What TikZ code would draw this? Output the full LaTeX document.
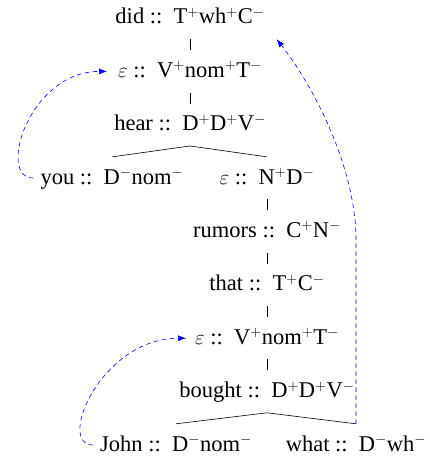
\documentclass[tikz,border=0pt]{standalone}
\usepackage{fontspec}
\setmainfont{Liberation Serif}
\usetikzlibrary{arrows.meta}
\newcommand{\lexi}[2]{#1 ::\hspace{0.5em}#2}
\begin{document}
\begin{tikzpicture}[x=1pt,y=-1pt,
  tn/.style={inner xsep=7pt, inner ysep=11pt, text height=16pt, text depth=4pt, anchor=base, font=\fontsize{22.5}{27}\selectfont},
  edge/.style={line width=0.6pt},
  mv/.style={blue, line width=0.6pt, dash pattern=on 4.5pt off 3.5pt, -{Latex[length=8pt,width=6pt]}}]
\useasboundingbox (0,0) rectangle (429,460);
\node[tn] (did) at (190,24) {\lexi{did}{T$^{+}$wh$^{+}$C$^{-}$}};
\node[tn] (e1) at (190,77.4) {\lexi{$\varepsilon$}{V$^{+}$nom$^{+}$T$^{-}$}};
\node[tn] (hear) at (190,130.75) {\lexi{hear}{D$^{+}$D$^{+}$V$^{-}$}};
\node[tn] (you) at (112,184.1) {\lexi{you}{D$^{-}$nom$^{-}$}};
\node[tn] (eN) at (267,184.1) {\lexi{$\varepsilon$}{N$^{+}$D$^{-}$}};
\node[tn] (rumors) at (267,237.5) {\lexi{rumors}{C$^{+}$N$^{-}$}};
\node[tn] (that) at (267,290.9) {\lexi{that}{T$^{+}$C$^{-}$}};
\node[tn] (e2) at (267,344.25) {\lexi{$\varepsilon$}{V$^{+}$nom$^{+}$T$^{-}$}};
\node[tn] (bought) at (267,397.6) {\lexi{bought}{D$^{+}$D$^{+}$V$^{-}$}};
\node[tn] (john) at (176,451) {\lexi{John}{D$^{-}$nom$^{-}$}};
\node[tn] (what) at (356,451) {\lexi{what}{D$^{-}$wh$^{-}$}};
\draw[edge] (did.south) -- (e1.north);
\draw[edge] (e1.south) -- (hear.north);
\draw[edge] (hear.south) -- (you.north);
\draw[edge] (hear.south) -- (eN.north);
\draw[edge] (eN.south) -- (rumors.north);
\draw[edge] (rumors.south) -- (that.north);
\draw[edge] (that.south) -- (e2.north);
\draw[edge] (e2.south) -- (bought.north);
\draw[edge] (bought.south) -- (john.north);
\draw[edge] (bought.south) -- (what.north);
\draw[mv] (you.west) .. controls +(-37,0) and +(-78,0) .. ([xshift=-4pt]e1.west);
\draw[mv] (john.west) .. controls +(-37,0) and +(-85,0) .. ([xshift=-2pt]e2.west);
\draw[mv] (what.north) -- ++(0,-184) .. controls +(0,-70) and +(39,50) .. ([xshift=5pt]did.south east);
\end{tikzpicture}
\end{document}
